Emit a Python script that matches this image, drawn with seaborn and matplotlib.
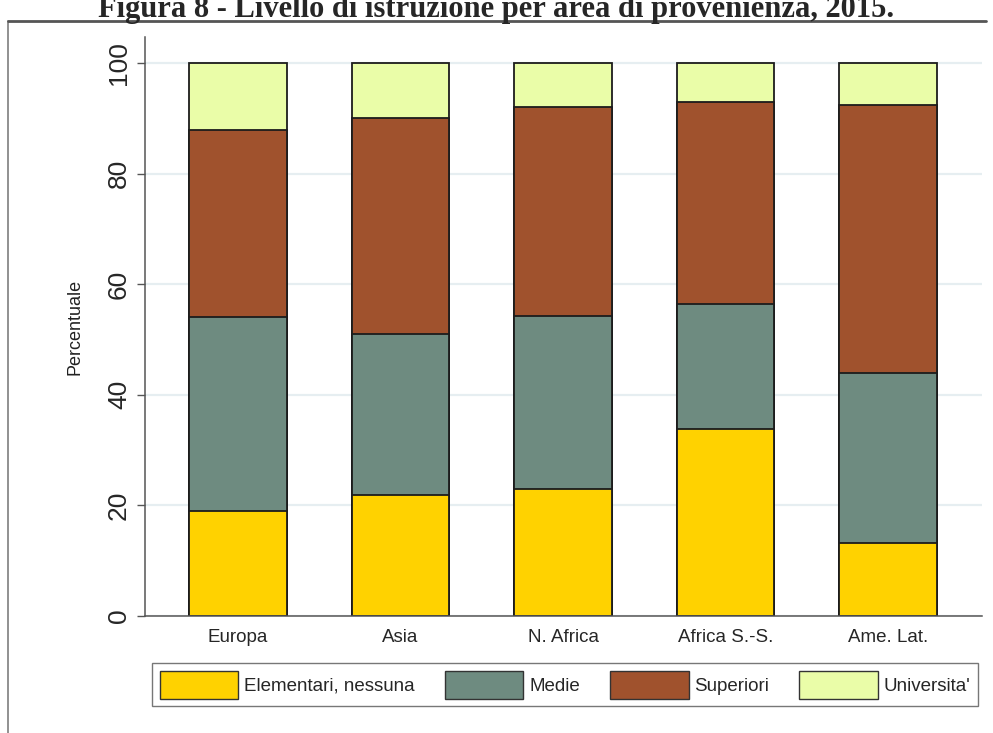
# Livello di istruzione per area di provenienza - stacked bars
import numpy as np
import seaborn as sns
import matplotlib.pyplot as plt
from matplotlib.patches import Patch
from matplotlib.lines import Line2D

# Data (percentages)
areas = ['Europa', 'Asia', 'N. Africa', 'Africa S.-S.', 'Ame. Lat.']
elementari = [19.0, 21.9, 23.0, 33.8, 13.2]
medie = [35.1, 29.1, 31.2, 22.6, 30.7]
superiori = [33.8, 39.0, 37.8, 36.5, 48.5]
universita = [12.1, 10.0, 8.0, 7.1, 7.6]

labels = ['Elementari, nessuna', 'Medie', 'Superiori', "Universita'"]
colors = ['#FFD200', '#6E8B80', '#A0522D', '#EAFDA8']

sns.set_theme(style='white')
plt.rcParams['font.family'] = ['Liberation Sans', 'DejaVu Sans']

fig = plt.figure(figsize=(9.93, 7.33), dpi=100)
ax = fig.add_axes([145 / 993, 1 - 616 / 733, (982 - 145) / 993, (616 - 37) / 733])

# stacked bars: draw cumulative totals from the top layer down
cum = np.cumsum(np.array([elementari, medie, superiori, universita]), axis=0)
for i in reversed(range(4)):
    sns.barplot(x=areas, y=cum[i], order=areas, color=colors[i], saturation=1,
                width=0.6, edgecolor='#1c1c1c', linewidth=1.3, errorbar=None, ax=ax)

ax.set_xlim(-0.572, 4.578)
ax.set_ylim(0, 104.7)
ax.set_yticks([0, 20, 40, 60, 80, 100])
ax.set_yticklabels(['0', '20', '40', '60', '80', '100'], rotation=90, va='center', fontsize=19)
ax.yaxis.grid(True, color='#E6EEF1', linewidth=1.6)
ax.set_axisbelow(True)
ax.tick_params(axis='y', length=6, width=1, color='#555555', pad=4, left=True)
ax.tick_params(axis='x', length=0, pad=9, labelsize=13.5)
ax.set_xlabel('')
ax.set_ylabel('Percentuale', fontsize=13, color='#222222')
ax.yaxis.set_label_coords(-62 / 837, 0.5)
for s in ['top', 'right']:
    ax.spines[s].set_visible(False)
for s in ['left', 'bottom']:
    ax.spines[s].set_color('#555555')
    ax.spines[s].set_linewidth(1.1)

# legend
handles = [Patch(facecolor=c, edgecolor='#333333', linewidth=1) for c in colors]
fig.legend(handles, labels, ncol=4, loc='lower left', mode='expand',
           bbox_to_anchor=(152 / 993, 1 - 706 / 733, (978 - 152) / 993, 50 / 733),
           fontsize=13.5, frameon=True, fancybox=False, edgecolor='#555555',
           handlelength=4.2, handleheight=1.9, handletextpad=0.3, borderpad=0.4,
           borderaxespad=0)

# title (cut off at the top in the original) and outer frame
fig.text(0.5, 1 - 17 / 733, 'Figura 8 - Livello di istruzione per area di provenienza, 2015.',
         ha='center', va='baseline', fontsize=22, fontweight='bold',
         family=['Liberation Serif', 'DejaVu Serif'])
fig.add_artist(Line2D([8 / 993, 8 / 993], [0, 1 - 21 / 733], transform=fig.transFigure,
                      color='#888888', linewidth=1.3))
fig.add_artist(Line2D([8 / 993, 986 / 993], [1 - 21 / 733, 1 - 21 / 733], transform=fig.transFigure,
                      color='#555555', linewidth=2))

fig.savefig('out.png', dpi=100)
